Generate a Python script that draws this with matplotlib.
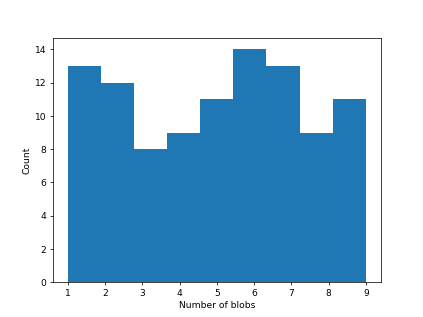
from matplotlib import pyplot as plt
import numpy as np

blobs = [1, 2, 3, 4, 5, 6, 7, 8, 9]
counts = [13, 12, 8, 9, 11, 14, 13, 9, 11]

fig = plt.figure(figsize=(6.4, 4.8), dpi=66.1)
ax = fig.add_subplot()
ax.hist(blobs, bins=9, range=(1, 9), weights=counts)
ax.set_xlabel('Number of blobs')
ax.set_ylabel('Count')
fig.savefig('out.png', dpi=66.1)
